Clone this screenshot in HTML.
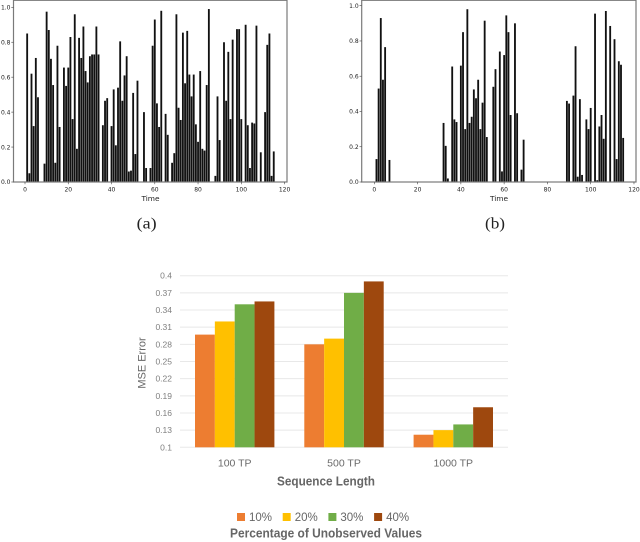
<!DOCTYPE html>
<html lang="en">
<head>
<meta charset="utf-8">
<title>Time series and MSE error charts</title>
<style>
html,body{margin:0;padding:0;background:#fff;width:640px;height:542px;overflow:hidden}
svg{display:block;position:absolute;left:0;top:0}
#marks{filter:blur(0.3px)}
text{font-family:"Liberation Sans",sans-serif}
.tick{font-family:"DejaVu Sans",sans-serif;font-size:6px;fill:#222}
.caption{font-family:"Liberation Serif",serif;font-size:16px;fill:#222}
.bar-tick{font-size:8.5px;fill:#7f7f7f}
.cat-tick{font-size:10.5px;fill:#6a6a6a}
.title{font-size:12.5px;font-weight:bold;fill:#666}
.legend-label{font-size:11.5px;fill:#666}
</style>
</head>
<body>
<svg id="marks" width="640" height="542" viewBox="0 0 640 542" xmlns="http://www.w3.org/2000/svg"></svg>
<script>
const seriesA = [0,0.85,0.05,0.62,0.32,0.71,0.485,0,0,0.105,0.975,0.87,0.705,0.555,0.11,0.78,0.315,0,0.655,0.55,0.655,0.83,0.36,0.96,0.19,0.825,0.71,0.89,0.635,0.57,0.72,0.73,0.73,0.89,0.73,0,0.325,0.465,0.48,0,0.32,0.53,0.21,0.54,0.805,0.465,0.61,0.72,0.06,0.065,0.51,0.16,0.58,0,0,0.40,0.08,0,0.08,0.78,0.93,0.45,0.315,0.98,0,0.39,0.27,0,0.11,0.165,0.96,0.425,0.355,0.855,0.565,0.865,0.615,0.49,0.615,0.33,0.23,0.635,0.19,0.18,0.555,0.99,0,0,0.035,0.49,0.24,0,0.80,0.465,0.745,0.36,0.815,0,0.875,0.875,0.36,0,0.90,0.325,0.08,0.34,0.335,0.895,0,0.17,0,0.40,0.785,0.85,0.035,0.175];
const seriesB = [0,0.13,0.53,0.93,0.58,0.765,0,0.125,0,0,0,0,0,0,0,0,0,0,0,0,0,0,0,0,0,0,0,0,0,0,0,0,0.335,0.205,0.02,0,0.655,0.355,0.34,0,0.66,0.85,0.30,0.98,0.335,0.37,0.525,0.475,0.58,0.30,0.45,0.915,0.255,0,0,0.54,0.64,0,0.74,0.06,0.72,0.945,0.85,0.38,0,0.90,0.39,0,0.07,0.24,0,0,0,0,0,0,0,0,0,0,0,0,0,0,0,0,0,0,0,0.46,0.445,0,0.49,0.77,0.03,0.47,0.04,0,0.355,0.30,0.42,0,0.955,0.01,0.315,0.38,0.245,0.97,0,0.885,0,0.81,0.13,0.685,0.665,0.25];
const timeTicks = [0,20,40,60,80,100,120];
const unitTicks = [0,0.2,0.4,0.6,0.8,1.0];
const mseCategories = ['100 TP','500 TP','1000 TP'];
const mseSeriesNames = ['10%','20%','30%','40%'];
const mse10 = [0.297,0.28,0.122];
const mse20 = [0.32,0.29,0.13];
const mse30 = [0.35,0.37,0.14];
const mse40 = [0.355,0.39,0.17];
const mseTicks = [0.1,0.13,0.16,0.19,0.22,0.25,0.28,0.31,0.34,0.37,0.4];
const mseColors = ['#ed7d31','#ffc000','#70ad47','#9e480e'];

const svg = document.getElementById('marks');
const NS = 'http://www.w3.org/2000/svg';
function make(tag, attrs, txt, parent) {
  const el = document.createElementNS(NS, tag);
  for (const k in attrs) el.setAttribute(k, attrs[k]);
  if (txt !== undefined && txt !== null) el.textContent = txt;
  (parent || svg).appendChild(el);
  return el;
}

function timePanel(prefix, values, box) {
  const g = make('g', {});
  
  
  const sx = v => box.x0 + v * box.xs;
  const sy = v => box.y0 - v * box.ys;
  values.forEach((v, i) => {
    if (v <= 0) return;
    const bar = make('rect', {x: sx(i) - 0.92, y: sy(v), width: 1.84, height: box.y0 - sy(v), fill: '#111'}, null, g);
    
    
  });
  const frame = make('rect', {x: box.l, y: 0.3, width: box.r - box.l, height: box.y0 - 0.3, fill: 'none', stroke: '#7a7a7a', 'stroke-width': 1.2}, null, g);
  
  
  timeTicks.forEach(t => {
    make('line', {x1: sx(t), x2: sx(t), y1: box.y0, y2: box.y0 + 2.2, stroke: '#444', 'stroke-width': 0.6}, null, g);
    const lab = make('text', {x: sx(t), y: 191.6, 'text-anchor': 'middle', class: 'tick'}, String(t), g);
    
    
  });
  unitTicks.forEach(t => {
    make('line', {x1: box.l - 2.2, x2: box.l, y1: sy(t), y2: sy(t), stroke: '#444', 'stroke-width': 0.6}, null, g);
    const lab = make('text', {x: box.l - 3, y: sy(t) + 2.2, 'text-anchor': 'end', class: 'tick'}, t.toFixed(1), g);
    
    
  });
  const title = make('text', {x: box.tx, y: 201, 'text-anchor': 'middle', class: 'tick', style: 'font-size:7.4px'}, 'Time', g);
  
  
  const cap = make('text', {x: box.cx, y: 228.5, 'text-anchor': 'middle', class: 'caption', textLength: 20, lengthAdjust: 'spacingAndGlyphs'}, box.cap, g);
  
  
}

timePanel('chart-a', seriesA, {x0: 25, xs: 2.163, y0: 182, ys: 174.7, l: 13.5, r: 287, tx: 150.5, cx: 146.7, cap: '(a)'});
timePanel('chart-b', seriesB, {x0: 374.3, xs: 2.164, y0: 182, ys: 176.3, l: 361.7, r: 636, tx: 499, cx: 495, cap: '(b)'});

// Bar chart
const plotL = 180, plotR = 508, plotBottom = 447.3, plotTop = 275.7;
const barG = make('g', {});


const bx = i => 195 + i * 109.3;
const by = v => plotBottom - (v - 0.1) / 0.3 * (plotBottom - plotTop);
const barW = 19.85;

mseTicks.forEach(t => {
  const line = make('line', {x1: plotL, x2: plotR, y1: by(t), y2: by(t), stroke: '#e8e8e8', 'stroke-width': 1}, null, barG);
  
  
  const lab = make('text', {x: 172, y: by(t) + 3, 'text-anchor': 'end', class: 'bar-tick'}, String(t), barG);
  
  
});

[mse10, mse20, mse30, mse40].forEach((vals, s) => {
  vals.forEach((v, i) => {
    const r = make('rect', {x: bx(i) + s * barW, y: by(v), width: barW, height: plotBottom - by(v), fill: mseColors[s]}, null, barG);
    
    
  });
});

mseCategories.forEach((c, i) => {
  const lab = make('text', {x: bx(i) + 2 * barW, y: 466.5, 'text-anchor': 'middle', class: 'cat-tick'}, c, barG);
  
  
});

const yTitle = make('text', {x: 0, y: 0, 'text-anchor': 'middle', class: 'title', transform: 'translate(145.5,363) rotate(-90)', style: 'font-size:11px;font-weight:normal'}, 'MSE Error', barG);



const xTitle = make('text', {x: 326, y: 485.5, 'text-anchor': 'middle', class: 'title', textLength: 98, lengthAdjust: 'spacingAndGlyphs'}, 'Sequence Length', barG);



mseSeriesNames.forEach((n, i) => {
  const entry = make('g', {}, null, barG);
  
  
  const lx = 237 + i * 45.7;
  make('rect', {x: lx, y: 513, width: 8, height: 8, fill: mseColors[i]}, null, entry);
  make('text', {x: lx + 12, y: 521, class: 'legend-label'}, n, entry);
});

const legendTitle = make('text', {x: 326, y: 537.5, 'text-anchor': 'middle', class: 'title', textLength: 192, lengthAdjust: 'spacingAndGlyphs'}, 'Percentage of Unobserved Values', barG);


</script>
</body>
</html>
